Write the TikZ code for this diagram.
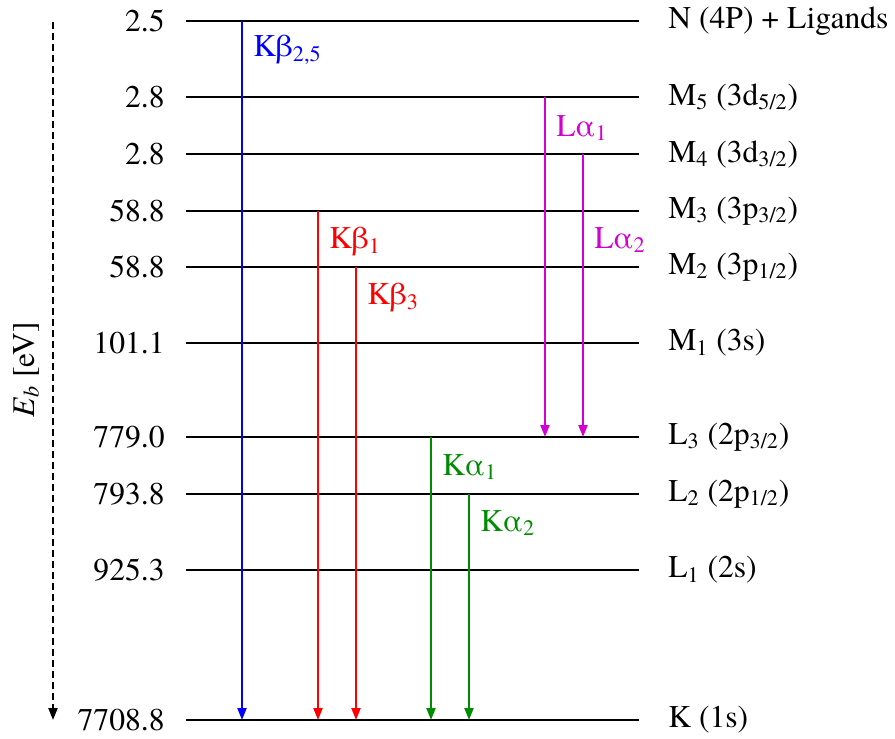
\documentclass[tikz,border=0pt]{standalone}
\usepackage{fontspec}
\IfFontExistsTF{texgyretermes-regular.otf}{%
  \setmainfont{texgyretermes}[Extension=.otf,UprightFont=*-regular,
    ItalicFont=*-italic,BoldFont=*-bold,BoldItalicFont=*-bolditalic]}{%
  \setmainfont{Liberation Serif}}
\usetikzlibrary{arrows.meta}
\definecolor{LineBlue}{RGB}{0,0,255}
\definecolor{LineRed}{RGB}{255,0,0}
\definecolor{LineGreen}{RGB}{0,140,0}
\definecolor{LineMagenta}{RGB}{210,0,210}

\begin{document}
\begin{tikzpicture}[x=0.02cm,y=-0.02cm,
  font=\rmfamily\fontsize{18}{22}\selectfont,
  level/.style={line width=1.5pt},
  trans/.style={line width=1.25pt,-{Triangle[length=2.4mm,width=1.8mm]}},
  evlab/.style={anchor=east,inner sep=0pt},
  shlab/.style={anchor=west,inner sep=0pt},
  tlab/.style={anchor=west,inner sep=0pt}]
  \useasboundingbox (0,0) rectangle (895,738);

  % Energy levels
  \foreach \n/\y/\ev/\lab in {
    N/21/2.5/{N (4P) + Ligands},
    M5/97/2.8/{M\textsubscript{5} (3d\textsubscript{5/2})},
    M4/154/2.8/{M\textsubscript{4} (3d\textsubscript{3/2})},
    M3/211/58.8/{M\textsubscript{3} (3p\textsubscript{3/2})},
    M2/267/58.8/{M\textsubscript{2} (3p\textsubscript{1/2})},
    M1/343/101.1/{M\textsubscript{1} (3s)},
    L3/437/779.0/{L\textsubscript{3} (2p\textsubscript{3/2})},
    L2/494/793.8/{L\textsubscript{2} (2p\textsubscript{1/2})},
    L1/570/925.3/{L\textsubscript{1} (2s)},
    K/720/7708.8/{K (1s)}
  }{
    \coordinate (\n-w) at (186,\y);
    \coordinate (\n-e) at (639,\y);
    \draw[level] (\n-w) -- (\n-e);
    \node[evlab] (\n-ev) at (165,\y) {\ev};
    \node[shlab] (\n-lab) at (668,\y) {\lab};
  }

  % Transitions
  \foreach \t/\x/\from/\to/\col/\lab/\ly in {
    kb25/242/N/K/LineBlue/{Kβ\textsubscript{2,5}}/50,
    kb1/318/M3/K/LineRed/{Kβ\textsubscript{1}}/242,
    kb3/356/M2/K/LineRed/{Kβ\textsubscript{3}}/298,
    ka1/431/L3/K/LineGreen/{Kα\textsubscript{1}}/467,
    ka2/469/L2/K/LineGreen/{Kα\textsubscript{2}}/523,
    la1/545/M5/L3/LineMagenta/{Lα\textsubscript{1}}/128,
    la2/583/M4/L3/LineMagenta/{Lα\textsubscript{2}}/240
  }{
    \draw[trans,\col] (\x,0 |- \from-w) -- (\x,0 |- \to-w);
    \node[tlab,text=\col] (\t) at (\x+11,\ly) {\lab};
  }

  % Energy axis
  \coordinate (eb-top) at (53,22);
  \coordinate (eb-bot) at (53,720);
  \draw[line width=1.25pt,dash pattern=on 1.4mm off 0.8mm,
    -{Triangle[length=2.4mm,width=1.8mm]}] (eb-top) -- (eb-bot);
  \node[rotate=90] (eb) at (26,370) {\textit{E}\textsubscript{\textit{b}} [eV]};
\end{tikzpicture}
\end{document}
